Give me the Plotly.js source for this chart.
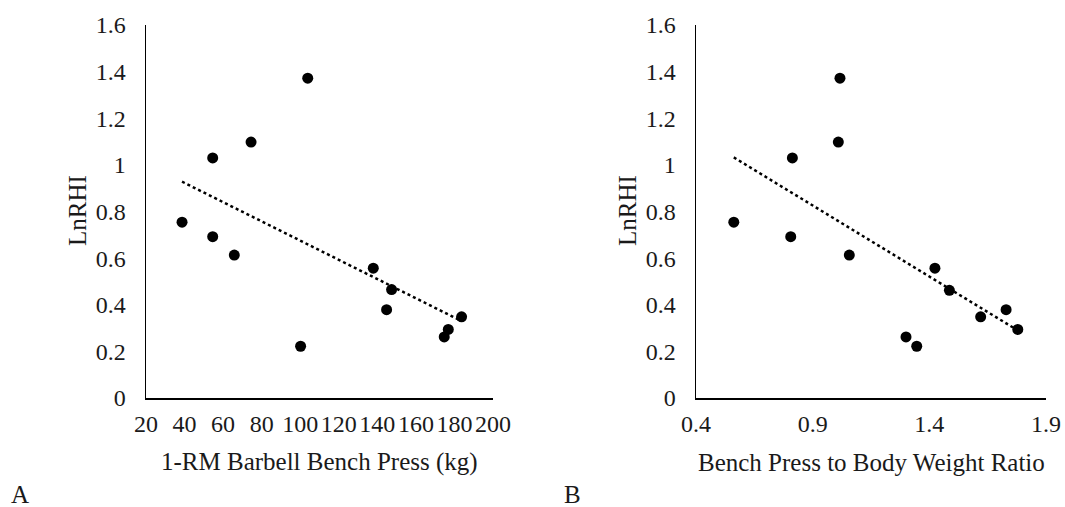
<!DOCTYPE html>
<html>
<head>
<meta charset="utf-8">
<script src="https://cdn.plot.ly/plotly-3.0.1.min.js"></script>
<style>html,body{margin:0;padding:0;background:#fff;}#chart{width:1065px;height:507px;}</style>
</head>
<body>
<div id="chart"></div>
<script>
// Panel A: 1-RM barbell bench press (kg) vs LnRHI
const benchA = [103.9, 74.5, 54.6, 38.7, 54.6, 65.8, 137.9, 147.4, 144.8, 100.2, 183.7, 176.8, 174.7];
const lnrhiA = [1.372, 1.098, 1.030, 0.754, 0.692, 0.613, 0.557, 0.465, 0.379, 0.222, 0.348, 0.294, 0.262];
const trendAx = [38.7, 183.7];
const trendAy = [0.928, 0.330];

// Panel B: bench press to body weight ratio vs LnRHI
const ratioB = [1.017, 1.010, 0.813, 0.562, 0.806, 1.057, 1.424, 1.486, 1.729, 1.620, 1.779, 1.300, 1.346];
const lnrhiB = [1.372, 1.098, 1.030, 0.754, 0.692, 0.613, 0.557, 0.462, 0.379, 0.348, 0.294, 0.262, 0.222];
const trendBx = [0.562, 1.779];
const trendBy = [1.032, 0.290];

const xTitleA = "1-RM Barbell Bench Press (kg)";
const xTitleB = "Bench Press to Body Weight Ratio";
const yTitle = "LnRHI";
const panelLabels = ["A", "B"];

const W = 1065, H = 507;
const fontFam = "'Liberation Serif', 'Times New Roman', serif";
const txt = "#1a1a1a";

const markerStyle = {color: "#000", size: 11, symbol: "circle"};
const trendStyle = {color: "#000", width: 2.5, dash: "dot"};

const data = [
  {x: benchA, y: lnrhiA, type: "scatter", mode: "markers", marker: markerStyle, xaxis: "x", yaxis: "y", hoverinfo: "x+y"},
  {x: trendAx, y: trendAy, type: "scatter", mode: "lines", line: trendStyle, xaxis: "x", yaxis: "y", hoverinfo: "skip"},
  {x: ratioB, y: lnrhiB, type: "scatter", mode: "markers", marker: markerStyle, xaxis: "x2", yaxis: "y2", hoverinfo: "x+y"},
  {x: trendBx, y: trendBy, type: "scatter", mode: "lines", line: trendStyle, xaxis: "x2", yaxis: "y2", hoverinfo: "skip"}
];

const yDomain = [1 - 398 / H, 1 - 25 / H];
const tickFont = {family: fontFam, size: 24, color: txt};
const titleFont = {family: fontFam, size: 25, color: txt};

function xAxis(range, dtick, tick0, domain, anchor) {
  return {
    range: range, dtick: dtick, tick0: tick0, domain: domain, anchor: anchor,
    showgrid: false, zeroline: false, showline: true, linecolor: "#000", linewidth: 1.5,
    ticks: "", ticklabelstandoff: 4, tickfont: tickFont, automargin: false, fixedrange: true
  };
}
function yAxis(domain, anchor) {
  return {
    range: [0, 1.6], dtick: 0.2, tick0: 0, domain: domain, anchor: anchor,
    showgrid: false, zeroline: false, showline: true, linecolor: "#000", linewidth: 1.5,
    ticks: "", ticklabelstandoff: 14, tickfont: tickFont, automargin: false, fixedrange: true
  };
}

const layout = {
  width: W, height: H,
  margin: {l: 0, r: 0, t: 0, b: 0},
  paper_bgcolor: "#fff", plot_bgcolor: "#fff",
  showlegend: false,
  font: {family: fontFam, color: txt},
  xaxis: xAxis([20, 200], 20, 20, [146 / W, 493 / W], "y"),
  yaxis: yAxis(yDomain, "x"),
  xaxis2: xAxis([0.4, 1.9], 0.5, 0.4, [696 / W, 1046 / W], "y2"),
  yaxis2: yAxis(yDomain, "x2"),
  annotations: [
    {text: xTitleA, xref: "paper", yref: "paper", x: 319 / W, y: 1 - 462 / H, xanchor: "center", yanchor: "middle", showarrow: false, font: titleFont},
    {text: xTitleB, xref: "paper", yref: "paper", x: 871 / W, y: 1 - 462 / H, xanchor: "center", yanchor: "middle", showarrow: false, font: titleFont},
    {text: yTitle, xref: "paper", yref: "paper", x: 77 / W, y: 1 - 211 / H, xanchor: "center", yanchor: "middle", textangle: -90, showarrow: false, font: titleFont},
    {text: yTitle, xref: "paper", yref: "paper", x: 627 / W, y: 1 - 211 / H, xanchor: "center", yanchor: "middle", textangle: -90, showarrow: false, font: titleFont},
    {text: panelLabels[0], xref: "paper", yref: "paper", x: 20 / W, y: 1 - 494 / H, xanchor: "center", yanchor: "middle", showarrow: false, font: titleFont},
    {text: panelLabels[1], xref: "paper", yref: "paper", x: 572 / W, y: 1 - 494 / H, xanchor: "center", yanchor: "middle", showarrow: false, font: titleFont}
  ]
};

Plotly.newPlot("chart", data, layout, {displayModeBar: false, staticPlot: true});
</script>
</body>
</html>
